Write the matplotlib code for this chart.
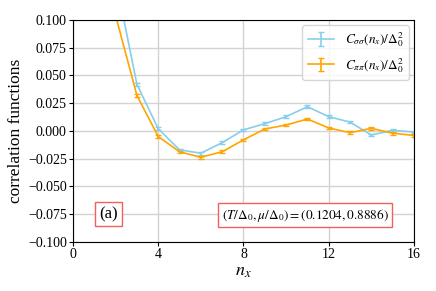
import numpy as np
import matplotlib.pyplot as plt

plt.rcParams['font.family'] = 'serif'
plt.rcParams['font.serif'] = ['Liberation Serif', 'DejaVu Serif']
plt.rcParams['mathtext.fontset'] = 'stix'

# data
nx = [0, 1, 2, 3, 4, 5, 6, 7, 8, 9, 10, 11, 12, 13, 14, 15, 16]
c_ss = [0.60, 0.30, 0.137, 0.042, 0.002, -0.017, -0.020, -0.0105, 0.001, 0.0066,
        0.0129, 0.0219, 0.0129, 0.008, -0.0036, 0.0006, -0.001]
c_pp = [0.55, 0.28, 0.104, 0.032, -0.005, -0.0187, -0.0237, -0.0187, -0.008, 0.0018,
        0.0054, 0.0108, 0.0027, -0.0015, 0.0024, -0.002, -0.004]
err_ss = [0.0012] * len(nx)
err_pp = [0.0012] * len(nx)

fig = plt.figure(figsize=(4.36, 2.91), dpi=100)
ax = fig.add_axes([0.1674, 0.1684, 0.7821, 0.7629])

ax.errorbar(nx, c_ss, yerr=err_ss, color='skyblue', lw=1.2, capsize=2.5,
            label=r'$C_{\sigma\sigma}(n_x)/\Delta_0^2$')
ax.errorbar(nx, c_pp, yerr=err_pp, color='orange', lw=1.2, capsize=2.5,
            label=r'$C_{\pi\pi}(n_x)/\Delta_0^2$')

ax.set_xlim(0, 16)
ax.set_ylim(-0.1, 0.1)
ax.set_xticks([0, 4, 8, 12, 16])
ax.set_yticks(np.arange(-0.1, 0.101, 0.025))
ax.tick_params(labelsize=10, length=3, pad=1.5)
ax.grid(color='lightgray', lw=1)
ax.set_xlabel(r'$n_x$', fontsize=13, labelpad=1)
ax.set_ylabel('correlation functions', fontsize=12.5)
ax.yaxis.set_label_coords(-0.145, 0.5)

ax.legend(loc='upper right', fontsize=9.5, handlelength=2.0, borderaxespad=0.4)

box = dict(boxstyle='square,pad=0.25', facecolor='white', edgecolor='#f06060')
ax.text(1.65, -0.075, '(a)', fontsize=12, ha='center', va='center', bbox=box)
ax.text(10.9, -0.0757, r'$(T/\Delta_0,\mu/\Delta_0)=(0.1204,0.8886)$', fontsize=9.5,
        ha='center', va='center', bbox=box)

fig.savefig('out.png', dpi=100)
